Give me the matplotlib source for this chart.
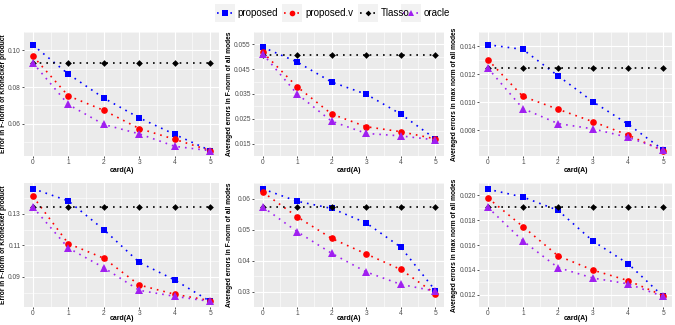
import matplotlib
matplotlib.use("Agg")
import matplotlib.pyplot as plt
from matplotlib.lines import Line2D
from matplotlib.patches import Rectangle
import numpy as np

plt.rcParams['font.family'] = ['Liberation Sans', 'DejaVu Sans']

card = [0, 1, 2, 3, 4, 5]
series_names = ["proposed", "proposed.v", "Tlasso", "oracle"]

# Panel data (top row then bottom row)
p1 = {"proposed": [0.1029, 0.0871, 0.0740, 0.0632, 0.0542, 0.0454],
      "proposed.v": [0.0969, 0.0752, 0.0673, 0.0574, 0.0515, 0.0454],
      "Tlasso": [0.0929] * 6,
      "oracle": [0.0932, 0.0705, 0.0596, 0.0545, 0.0477, 0.0453]}
p2 = {"proposed": [0.0539, 0.0479, 0.0398, 0.0349, 0.0269, 0.0169],
      "proposed.v": [0.0519, 0.0379, 0.0269, 0.0218, 0.0198, 0.0169],
      "Tlasso": [0.0509] * 6,
      "oracle": [0.0512, 0.0350, 0.0240, 0.0191, 0.0181, 0.0165]}
p3 = {"proposed": [0.01410, 0.01376, 0.01189, 0.01004, 0.00844, 0.00662],
      "proposed.v": [0.01304, 0.01042, 0.00951, 0.00862, 0.00767, 0.00656],
      "Tlasso": [0.01242] * 6,
      "oracle": [0.01244, 0.00956, 0.00849, 0.00811, 0.00751, 0.00662]}
p4 = {"proposed": [0.1461, 0.1383, 0.1201, 0.0993, 0.0881, 0.0745],
      "proposed.v": [0.1412, 0.1112, 0.1019, 0.0849, 0.0790, 0.0750],
      "Tlasso": [0.1342] * 6,
      "oracle": [0.1344, 0.1084, 0.0959, 0.0815, 0.0777, 0.0745]}
p5 = {"proposed": [0.0631, 0.0591, 0.0568, 0.0521, 0.0443, 0.0303],
      "proposed.v": [0.0621, 0.0541, 0.0471, 0.0421, 0.0371, 0.0293],
      "Tlasso": [0.0571] * 6,
      "oracle": [0.0573, 0.0493, 0.0423, 0.0363, 0.0323, 0.0301]}
p6 = {"proposed": [0.0205, 0.01987, 0.0188, 0.01631, 0.01449, 0.01185],
      "proposed.v": [0.0198, 0.01749, 0.01513, 0.01397, 0.01313, 0.01192],
      "Tlasso": [0.01903] * 6,
      "oracle": [0.01905, 0.01633, 0.01418, 0.01333, 0.01287, 0.01185]}

ylabels = ["Error in F-norm of Kronecker product",
           "Averaged errors in F-norm of all modes",
           "Averaged errors in max norm of all modes"]
xlabel = "card(A)"
yticks = [[0.06, 0.08, 0.10],
          [0.015, 0.025, 0.035, 0.045, 0.055],
          [0.008, 0.010, 0.012, 0.014],
          [0.09, 0.11, 0.13],
          [0.03, 0.04, 0.05, 0.06],
          [0.012, 0.014, 0.016, 0.018, 0.020]]
ytick_labels = [["0.06", "0.08", "0.10"],
                ["0.015", "0.025", "0.035", "0.045", "0.055"],
                ["0.008", "0.010", "0.012", "0.014"],
                ["0.09", "0.11", "0.13"],
                ["0.03", "0.04", "0.05", "0.06"],
                ["0.012", "0.014", "0.016", "0.018", "0.020"]]

styles = {"proposed": dict(color="#0000FF", marker="s", ms=4.6),
          "proposed.v": dict(color="#FF0000", marker="o", ms=4.8),
          "Tlasso": dict(color="#000000", marker="D", ms=3.4),
          "oracle": dict(color="#A020F0", marker="^", ms=5.2)}

W, H = 675, 325
fig = plt.figure(figsize=(W / 100, H / 100), dpi=100)

cols = [(24, 219), (254, 444), (479, 672)]
rows = [(32, 156), (183, 307)]
ylabel_x = [4.0, 229.5, 454.5]
xlabel_y = [170, 319]
panels = [p1, p2, p3, p4, p5, p6]

for i, pdata in enumerate(panels):
    r, c = divmod(i, 3)
    x0, x1 = cols[c]
    y0, y1 = rows[r]
    ax = fig.add_axes([x0 / W, 1 - y1 / H, (x1 - x0) / W, (y1 - y0) / H])
    ax.set_facecolor("#EBEBEB")
    for s in ax.spines.values():
        s.set_visible(False)
    allv = np.concatenate([np.array(pdata[k]) for k in series_names])
    lo, hi = allv.min(), allv.max()
    pad = (hi - lo) * 0.05
    ax.set_ylim(lo - pad, hi + pad)
    ax.set_xlim(-0.25, 5.25)
    ax.set_xticks(card)
    ax.set_xticklabels([str(v) for v in card])
    ax.set_xticks([0.5, 1.5, 2.5, 3.5, 4.5], minor=True)
    yt = yticks[i]
    ax.set_yticks(yt)
    ax.set_yticklabels(ytick_labels[i])
    step = yt[1] - yt[0]
    minors = [yt[0] - step / 2] + [v + step / 2 for v in yt]
    ax.set_yticks(minors, minor=True)
    ax.grid(which="major", color="white", lw=0.8)
    ax.grid(which="minor", color="white", lw=0.4)
    ax.set_axisbelow(True)
    ax.tick_params(which="major", length=1.5, width=0.6, color="#333333",
                   labelsize=4.8, labelcolor="#4D4D4D", pad=0.8)
    ax.tick_params(which="minor", length=0)
    for name in series_names:
        st = styles[name]
        ax.plot(card, pdata[name], color=st["color"], lw=1.2,
                linestyle=(0, (1, 3)), marker=st["marker"], ms=st["ms"],
                markeredgewidth=0, zorder=3)
    fig.text((x0 + x1) / 2 / W, 1 - xlabel_y[r] / H, xlabel, fontsize=5,
             fontweight="bold", ha="center", va="center")
    fig.text(ylabel_x[c] / W, 1 - (y0 + y1) / 2 / H, ylabels[c], fontsize=4.8,
             fontweight="bold", ha="center", va="center", rotation=90)

# Legend (manual)
keys = [(215, 235, 237.5), (282, 302, 305), (358, 378, 380.5), (401, 421, 423.5)]
ly0, ly1 = 4, 22
for (kx0, kx1, tx), name in zip(keys, series_names):
    fig.add_artist(Rectangle((kx0 / W, 1 - ly1 / H), (kx1 - kx0) / W, (ly1 - ly0) / H,
                             transform=fig.transFigure, facecolor="#F2F2F2",
                             edgecolor="none"))
    st = styles[name]
    yc = 1 - 13 / H
    fig.add_artist(Line2D([(kx0 + 2) / W, (kx1 - 2) / W], [yc, yc],
                          transform=fig.transFigure, color=st["color"], lw=1.2,
                          linestyle=(0, (1, 3))))
    fig.add_artist(Line2D([(kx0 + kx1) / 2 / W], [yc], transform=fig.transFigure,
                          color=st["color"], marker=st["marker"], ms=st["ms"] * 0.85,
                          markeredgewidth=0, linestyle="none"))
    fig.text(tx / W, yc, name, fontsize=7, va="center", ha="left", color="black")

fig.savefig("out.png", dpi=100)
